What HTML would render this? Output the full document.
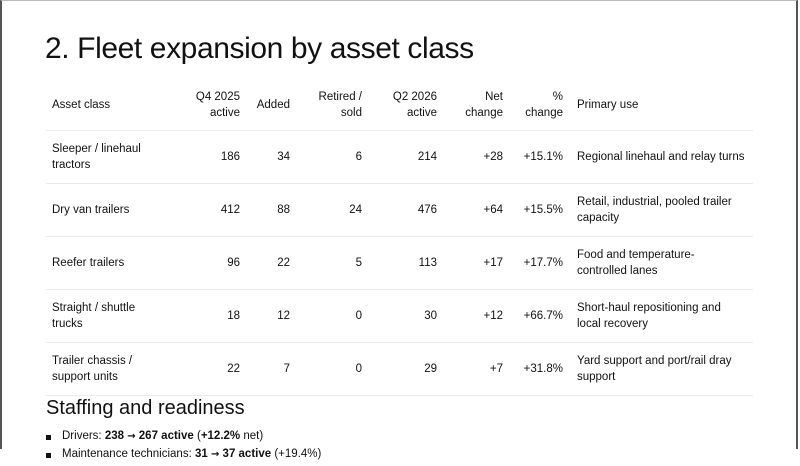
<!DOCTYPE html>
<html><head><meta charset="utf-8"><style>
html,body{margin:0;padding:0;background:#fff}
body{width:800px;height:449px;overflow:hidden;position:relative;font-family:"Liberation Sans",sans-serif;color:#111}
.frame{position:absolute;left:0;top:0;width:798px;height:449px;border-left:2px solid #555;border-right:2px solid #555;border-top:1px solid #bbb;box-sizing:border-box}
h1{position:absolute;left:45px;top:32px;margin:0;font-weight:normal;font-size:30px;letter-spacing:-0.4px}
table{position:absolute;left:46px;top:80px;width:707px;border-collapse:collapse;font-size:11.5px}
th{font-weight:normal;height:50px;vertical-align:middle;line-height:16px}
td{height:52px;vertical-align:middle;line-height:16px;border-top:1px solid #eaeaea}
tr:last-child td{border-bottom:1px solid #eaeaea}
th,td{padding:0 6px}
.r{text-align:right}
.p{padding-left:8px;padding-right:0;text-align:left;white-space:nowrap}
h2{position:absolute;left:46px;top:397px;margin:0;font-weight:normal;font-size:20px}
ul{position:absolute;left:46px;top:430px;margin:0;padding:0;list-style:none;font-size:11.5px}
li{position:relative;padding-left:16px;height:18px}
li:before{content:"";position:absolute;left:0;top:5px;width:5px;height:5px;background:#111}
.a{font-family:"DejaVu Sans",sans-serif;font-size:10px}
</style></head><body>
<div class="frame"></div>
<h1>2. Fleet expansion by asset class</h1>
<table>
<colgroup><col style="width:134px"><col style="width:66px"><col style="width:50px"><col style="width:72px"><col style="width:75px"><col style="width:66px"><col style="width:60px"><col></colgroup>
<tr><th style="text-align:left">Asset class</th><th class="r">Q4 2025<br>active</th><th class="r">Added</th><th class="r">Retired /<br>sold</th><th class="r">Q2 2026<br>active</th><th class="r">Net<br>change</th><th class="r">%<br>change</th><th class="p">Primary use</th></tr>
<tr><td>Sleeper / linehaul<br>tractors</td><td class="r">186</td><td class="r">34</td><td class="r">6</td><td class="r">214</td><td class="r">+28</td><td class="r">+15.1%</td><td class="p">Regional linehaul and relay turns</td></tr>
<tr><td>Dry van trailers</td><td class="r">412</td><td class="r">88</td><td class="r">24</td><td class="r">476</td><td class="r">+64</td><td class="r">+15.5%</td><td class="p">Retail, industrial, pooled trailer<br>capacity</td></tr>
<tr><td>Reefer trailers</td><td class="r">96</td><td class="r">22</td><td class="r">5</td><td class="r">113</td><td class="r">+17</td><td class="r">+17.7%</td><td class="p">Food and temperature-<br>controlled lanes</td></tr>
<tr><td>Straight / shuttle<br>trucks</td><td class="r">18</td><td class="r">12</td><td class="r">0</td><td class="r">30</td><td class="r">+12</td><td class="r">+66.7%</td><td class="p">Short-haul repositioning and<br>local recovery</td></tr>
<tr><td>Trailer chassis /<br>support units</td><td class="r">22</td><td class="r">7</td><td class="r">0</td><td class="r">29</td><td class="r">+7</td><td class="r">+31.8%</td><td class="p">Yard support and port/rail dray<br>support</td></tr>
</table>
<h2>Staffing and readiness</h2>
<ul><li>Drivers: <b>238 <span class="a">→</span> 267 active</b> (<b>+12.2%</b> net)</li><li>Maintenance technicians: <b>31 <span class="a">→</span> 37 active</b> (+19.4%)</li></ul>
</body></html>
